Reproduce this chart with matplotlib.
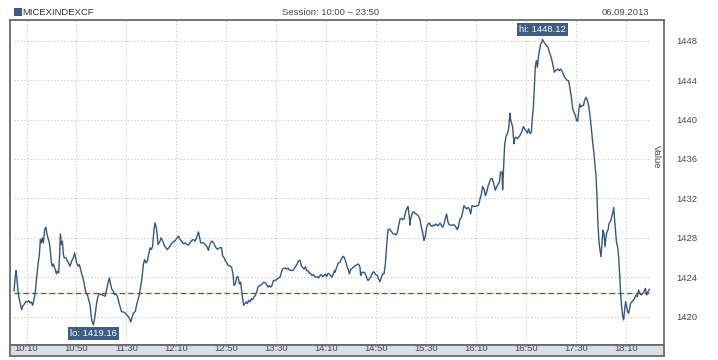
import matplotlib
matplotlib.use("Agg")
import matplotlib.pyplot as plt
from matplotlib.patches import Rectangle

plt.rcParams["font.family"] = ["Liberation Sans", "DejaVu Sans"]

# minutes after 10:00 and index value
minutes = [
    0.0, 0.8, 1.6, 2.1, 2.7, 3.5, 4.3, 5.3, 6.1, 6.9, 8.0, 9.6, 10.7, 11.7, 12.8, 13.9, 14.9, 16.0,
    17.1, 18.1, 19.2, 20.3, 21.1, 21.9, 22.7, 23.5, 24.5, 25.6, 26.4, 27.5, 28.3, 29.1, 29.9, 30.7,
    31.5, 32.3, 33.1, 33.9, 34.7, 35.7, 36.5, 37.1, 37.9, 38.7, 39.5, 40.3, 41.6, 42.7, 43.7, 44.8,
    46.1, 47.5, 48.5, 49.3, 50.1, 51.2, 52.3, 53.3, 54.4, 55.5, 56.5, 57.6, 58.7, 59.7, 60.8, 61.6,
    62.4, 63.5, 64.3, 65.1, 66.1, 67.2, 68.3, 69.9, 71.5, 72.8, 74.1, 75.2, 76.3, 77.3, 78.4, 79.5,
    80.5, 81.6, 82.7, 83.7, 84.8, 85.9, 87.5, 89.1, 90.1, 91.2, 92.3, 93.3, 94.4, 95.5, 97.1, 98.1,
    99.2, 100.3, 101.3, 102.4, 103.5, 104.5, 105.6, 106.7, 107.7, 108.8, 109.9, 110.9, 112.0, 112.8,
    113.6, 114.4, 115.2, 116.0, 116.8, 117.6, 118.4, 119.5, 120.5, 121.6, 122.7, 123.7, 124.8, 125.9,
    126.9, 128.0,
    128.8, 130.7, 131.7, 132.8, 134.1, 135.5, 136.8, 138.1, 139.5, 140.8, 142.1, 143.5, 144.8, 146.1,
    147.5, 148.3, 149.3, 150.4, 151.5, 152.8, 154.1, 155.5, 156.3, 157.3, 158.4, 159.5, 160.5, 161.6,
    162.7, 163.7, 164.8, 166.1, 166.9, 168.0, 169.1, 170.1, 171.5, 172.8, 174.1, 175.2, 176.0, 177.1,
    178.1, 179.2, 180.3, 181.3, 182.1, 182.9, 183.7, 184.8, 185.6, 186.7, 187.7, 188.8, 189.9, 190.9,
    192.0, 193.1, 194.1, 195.2, 196.3, 197.3, 198.4, 200.0, 201.1, 202.1, 203.2, 204.3, 205.3, 206.4,
    207.5, 208.5, 209.6, 210.7, 211.7, 212.8, 213.9, 214.9, 216.0, 217.1, 218.1, 219.2, 220.3, 221.3,
    222.4, 223.5, 224.5, 225.6, 226.7, 227.7, 228.8, 229.9, 230.9, 232.0, 233.1, 234.1, 235.2, 236.3,
    237.3, 238.4, 239.5, 240.5, 241.6, 242.7, 243.7, 244.8, 245.9, 246.9, 248.0, 249.1, 250.1, 251.2,
    252.3, 253.3, 254.4, 255.5, 256.5,
    256.8, 258.1, 259.5, 260.8, 262.1, 263.5, 264.5, 265.6, 266.7, 267.7, 268.3, 269.3, 270.4, 271.5,
    272.8, 274.1, 275.7, 276.8, 277.3, 278.4, 279.5, 280.8, 282.1, 283.2, 284.3, 285.3, 286.4, 287.5,
    288.5, 289.6, 290.7, 291.7, 292.8, 293.9, 294.9, 296.0, 297.1, 298.1, 299.2, 300.3, 301.3, 302.4,
    303.5, 304.5, 305.6, 306.7, 307.7, 308.8, 309.9, 310.9, 312.0, 313.1, 314.1, 315.2, 316.3, 316.8,
    317.3, 318.4, 319.5, 320.5, 321.6, 322.7, 323.7, 324.8, 325.9, 326.9, 328.0, 329.1, 330.1, 331.2,
    332.3, 333.3, 334.4, 335.5, 336.5, 337.6, 338.7, 339.7, 340.8, 341.9, 342.9, 344.0, 345.1, 346.1,
    347.2, 348.3, 349.3, 350.4, 351.5, 352.5, 353.6, 354.7, 355.7, 356.8, 357.9, 358.9, 360.0, 361.1,
    362.1, 363.2, 364.3, 365.3, 366.4, 367.5, 368.5, 369.6, 370.7, 371.7, 372.8, 373.9, 374.9, 376.0,
    377.1, 378.1, 379.2, 380.3, 381.3, 382.4, 383.5, 384.5,
    385.1, 386.1, 387.2, 388.3, 389.3, 390.4, 390.9, 391.5, 392.5, 393.6, 394.7, 395.7, 396.8, 397.3,
    397.9, 398.9, 400.0, 400.5, 401.6, 402.7, 403.7, 404.8, 406.1, 407.5, 408.5, 409.6, 410.7, 411.7,
    412.8, 413.9, 414.7, 415.5, 416.3, 417.1, 417.9, 418.7, 419.5, 420.3, 421.3, 422.1, 422.9, 424.0,
    425.1, 426.1, 427.2, 428.3, 429.3, 430.4, 431.5, 432.3, 433.1, 434.1, 435.2, 436.3, 437.3, 438.4,
    439.5, 440.5, 441.6, 442.7, 443.7, 444.8, 445.9, 446.9, 448.0, 449.1, 450.1, 450.9, 451.7, 452.5,
    453.3, 454.4, 455.5, 456.5, 457.6, 458.7, 459.7, 460.8, 461.9, 462.9, 464.0, 464.8, 465.6, 466.4,
    467.2, 468.0, 468.8, 469.6, 470.4, 471.2, 472.0, 472.8, 473.6, 474.4, 475.2, 476.0, 476.8, 477.6,
    478.4, 479.2, 479.7, 480.5, 481.3, 482.1, 482.9, 483.7, 484.5, 485.3, 486.1, 486.9, 487.7, 488.5,
    489.3, 490.1, 490.9, 491.7, 492.5, 493.3, 494.4, 495.5, 496.5, 497.6, 498.7, 499.7, 500.8, 501.9,
    502.9, 504.0, 505.1, 506.1, 507.2, 508.3,
]
values = [
    1422.64, 1423.76, 1424.68, 1424.10, 1423.25, 1422.24, 1421.73, 1421.22, 1420.71, 1421.05, 1421.22,
    1421.56, 1421.49, 1421.63, 1421.39, 1421.49, 1421.15, 1421.73, 1422.58, 1423.93, 1425.29, 1426.31,
    1427.83, 1427.49, 1428.00, 1427.49, 1428.85, 1429.08, 1428.34, 1427.83, 1427.49, 1426.64, 1425.46,
    1425.12, 1425.36, 1425.02, 1424.78, 1424.34, 1424.61, 1424.44, 1426.31, 1428.41, 1427.32, 1427.66,
    1426.31, 1425.97, 1425.97, 1425.63, 1425.46, 1425.12, 1425.63, 1425.97, 1426.47, 1425.97, 1425.46,
    1425.12, 1425.29, 1424.78, 1424.27, 1423.76, 1423.08, 1422.41, 1422.24, 1421.73, 1421.22, 1420.20,
    1419.53, 1419.16, 1419.69, 1420.37, 1421.39, 1422.07, 1422.31, 1422.24, 1422.17, 1422.07, 1422.75,
    1423.42, 1423.93, 1423.25, 1422.75, 1422.58, 1422.24, 1422.31, 1422.07, 1421.56, 1421.05, 1420.54,
    1420.47, 1420.37, 1420.20, 1420.03, 1419.86, 1419.46, 1419.86, 1420.37, 1420.54, 1421.22, 1421.73,
    1422.24, 1423.08, 1423.93, 1425.29, 1425.80, 1425.46, 1425.63, 1426.31, 1426.98, 1426.81, 1427.15,
    1428.85, 1429.53, 1429.19, 1428.51, 1427.32, 1427.49, 1427.66, 1428.00, 1427.83, 1427.49, 1427.15,
    1426.98, 1426.81, 1426.98, 1427.15, 1427.39, 1427.49, 1427.66,
    1427.67, 1428.07, 1428.17, 1427.83, 1427.67, 1427.40, 1427.50, 1427.33, 1427.27, 1427.50, 1427.73,
    1427.83, 1427.67, 1428.00, 1428.60, 1428.17, 1427.50, 1427.50, 1427.50, 1427.33, 1427.17, 1426.73,
    1427.17, 1427.50, 1427.67, 1427.50, 1427.27, 1427.00, 1426.83, 1426.93, 1427.00, 1427.00, 1426.17,
    1426.00, 1425.67, 1425.50, 1425.17, 1425.17, 1425.00, 1424.33, 1423.17, 1423.33, 1424.00, 1424.07,
    1423.33, 1423.50, 1422.67, 1421.83, 1421.17, 1421.33, 1421.50, 1421.33, 1421.67, 1421.50, 1421.83,
    1421.73, 1422.00, 1422.17, 1422.50, 1423.00, 1423.17, 1423.17, 1423.33, 1423.50, 1423.40, 1423.27,
    1423.00, 1423.17, 1423.00, 1423.17, 1423.67, 1423.67, 1423.73, 1423.83, 1423.93, 1424.00, 1424.50,
    1424.83, 1424.93, 1424.93, 1424.83, 1424.93, 1424.73, 1424.73, 1424.67, 1424.73, 1424.93, 1425.17,
    1425.40, 1425.67, 1425.73, 1425.17, 1425.00, 1424.83, 1425.07, 1424.67, 1424.67, 1424.40, 1424.40,
    1424.17, 1424.27, 1424.07, 1424.00, 1424.07, 1423.93, 1424.17, 1424.27, 1424.07, 1424.17, 1424.33,
    1424.07, 1424.40, 1424.33, 1424.17, 1424.00, 1424.40, 1424.67,
    1424.51, 1425.01, 1425.45, 1425.52, 1425.93, 1426.13, 1425.93, 1425.45, 1425.01, 1424.68, 1424.34,
    1424.78, 1424.91, 1425.01, 1425.18, 1425.25, 1425.35, 1425.01, 1424.17, 1424.51, 1424.51, 1424.44,
    1424.00, 1423.66, 1423.83, 1424.00, 1424.34, 1424.57, 1424.44, 1424.24, 1424.17, 1423.83, 1423.56,
    1424.00, 1424.34, 1424.34, 1425.35, 1427.21, 1428.83, 1428.90, 1428.73, 1428.56, 1428.39, 1428.39,
    1428.29, 1428.56, 1429.24, 1429.91, 1429.98, 1429.84, 1429.91, 1430.52, 1430.93, 1431.20, 1430.08,
    1429.30, 1429.91, 1430.42, 1430.66, 1430.52, 1430.42, 1430.32, 1430.18, 1429.84, 1429.07, 1428.56,
    1427.72, 1428.22, 1429.07, 1429.41, 1429.51, 1429.24, 1429.17, 1429.30, 1429.24, 1429.41, 1429.24,
    1429.30, 1429.51, 1429.24, 1429.07, 1429.41, 1429.98, 1430.42, 1429.57, 1429.30, 1429.30, 1429.30,
    1429.30, 1429.30, 1429.07, 1428.83, 1429.24, 1429.91, 1430.08, 1430.59, 1431.26, 1431.09, 1430.93,
    1431.09, 1430.93, 1430.42, 1431.26, 1431.20, 1431.20, 1431.20, 1431.26, 1431.33, 1431.94, 1432.45,
    1433.22, 1432.95, 1432.28, 1432.61, 1433.22, 1433.63, 1433.97, 1434.03, 1433.63, 1433.12,
    1432.82, 1433.16, 1433.43, 1433.67, 1434.68, 1434.68, 1432.89, 1434.68, 1437.38, 1438.29, 1438.56,
    1439.06, 1440.65, 1439.97, 1439.74, 1439.23, 1437.54, 1438.05, 1438.22, 1438.05, 1438.22, 1438.39,
    1438.73, 1439.30, 1439.06, 1438.89, 1438.62, 1439.06, 1438.56, 1438.73, 1440.24, 1441.25, 1443.45,
    1445.47, 1445.98, 1445.30, 1446.31, 1446.99, 1447.66, 1447.83, 1448.12, 1447.83, 1447.66, 1447.49,
    1447.33, 1446.82, 1446.48, 1445.98, 1445.30, 1444.80, 1444.96, 1445.03, 1445.13, 1444.96, 1445.13,
    1444.96, 1444.56, 1444.29, 1444.12, 1443.95, 1443.95, 1443.11, 1442.27, 1441.09, 1440.75, 1440.41,
    1439.91, 1439.84, 1440.75, 1441.59, 1441.25, 1441.42, 1441.42, 1441.93, 1442.27, 1441.93, 1441.42,
    1440.41, 1439.06, 1437.71, 1436.53, 1435.35, 1434.34, 1432.15, 1429.28, 1427.60, 1426.75, 1426.08,
    1427.43, 1428.78, 1428.44, 1427.09, 1428.10, 1428.61, 1428.78, 1429.45, 1429.62, 1429.79, 1430.29,
    1430.63, 1431.07, 1429.79, 1428.61, 1427.43, 1427.09, 1426.08, 1424.39, 1422.37, 1421.02, 1420.07,
    1419.67, 1420.68, 1421.52, 1421.02, 1420.51, 1420.34, 1420.85, 1421.36, 1421.52, 1421.69, 1421.86,
    1422.20, 1422.03, 1422.70, 1422.37, 1422.20, 1422.37, 1422.54, 1422.87, 1422.20, 1422.54, 1422.77,
]

prev_close = 1422.4
tick_minutes = [10, 50, 90, 130, 170, 210, 250, 290, 330, 370, 410, 450, 490]
tick_labels = ["10:10", "10:50", "11:30", "12:10", "12:50", "13:30", "14:10",
               "14:50", "15:30", "16:10", "16:50", "17:30", "18:10"]
value_ticks = [1420, 1424, 1428, 1432, 1436, 1440, 1444, 1448]

LINE = "#36587f"
FRAME = "#6b6b6b"
TXT = "#4a4a4a"
W, H = 718, 360

fig = plt.figure(figsize=(W / 100, H / 100), dpi=100)
fig.patch.set_facecolor("white")

ax = fig.add_axes([10 / W, 1 - 345 / H, 654 / W, 325 / H])
band = fig.add_axes([10 / W, 1 - 356 / H, 654 / W, 11 / H], sharex=ax)

x_lo, x_hi = -3.2, 520
ax.set_xlim(x_lo, x_hi)
ax.set_ylim(1417.13, 1450.1)

t0, t1 = minutes[0], minutes[-1]
for v in value_ticks:
    ax.hlines(v, t0, t1, colors="#c4c4c4", linestyles=(0, (1, 2)), linewidth=0.8, zorder=1)
for t in tick_minutes:
    ax.axvline(t, color="#c4c4c4", linestyle=(0, (1, 2)), linewidth=0.8, zorder=1)

ax.hlines(prev_close, t0, t1, colors="#d81e1e", linestyles=(0, (4.5, 2.5)), linewidth=0.9, zorder=2)
ax.plot(minutes, values, color=LINE, linewidth=1.0, zorder=3)

i_hi = values.index(max(values))
i_lo = values.index(min(values))
box = dict(boxstyle="square,pad=0.2", facecolor="#3d5f85", edgecolor="none")
ax.annotate(f"hi: {values[i_hi]:.2f}", (minutes[i_hi], values[i_hi]), xytext=(0, 7),
            textcoords="offset points", ha="center", va="center", fontsize=6.8,
            color="white", bbox=box, zorder=5)
ax.annotate(f"lo: {values[i_lo]:.2f}", (minutes[i_lo], values[i_lo]), xytext=(0, -6.3),
            textcoords="offset points", ha="center", va="center", fontsize=6.8,
            color="white", bbox=box, zorder=5)

ax.set_xticks(tick_minutes)
ax.tick_params(axis="x", length=0, labelbottom=False)
ax.yaxis.tick_right()
ax.set_yticks(value_ticks)
ax.tick_params(axis="y", length=0, pad=9, labelsize=6.8, labelcolor=TXT)
for s in ax.spines.values():
    s.set_color(FRAME)
    s.set_linewidth(1.3)

band.set_facecolor("#d8dfe6")
band.set_yticks([])
band.tick_params(axis="x", length=0, pad=-8.3, labelsize=6.8, labelcolor=TXT)
band.set_xticks(tick_minutes, tick_labels)
for s in band.spines.values():
    s.set_color(FRAME)
    s.set_linewidth(1.3)

fig.text(656 / W, 1 - 157 / H, "Value", rotation=270, ha="center", va="center",
         fontsize=6.8, color=TXT)

fig.patches.append(Rectangle((14 / W, 1 - 15 / H), 6.5 / W, 6.5 / H, transform=fig.transFigure,
                             facecolor="#3a5f8a", edgecolor="#2a4565", linewidth=0.6))
fig.text(22 / W, 1 - 15 / H, "MICEXINDEXCF", ha="left", va="baseline", fontsize=6.8, color="#333333")
fig.text(331 / W, 1 - 15 / H, "Session: 10:00 \u2013 23:50", ha="center", va="baseline",
         fontsize=6.8, color=TXT)
fig.text(649 / W, 1 - 15 / H, "06.09.2013", ha="right", va="baseline", fontsize=6.8, color=TXT)

fig.savefig("out.png", dpi=100)
